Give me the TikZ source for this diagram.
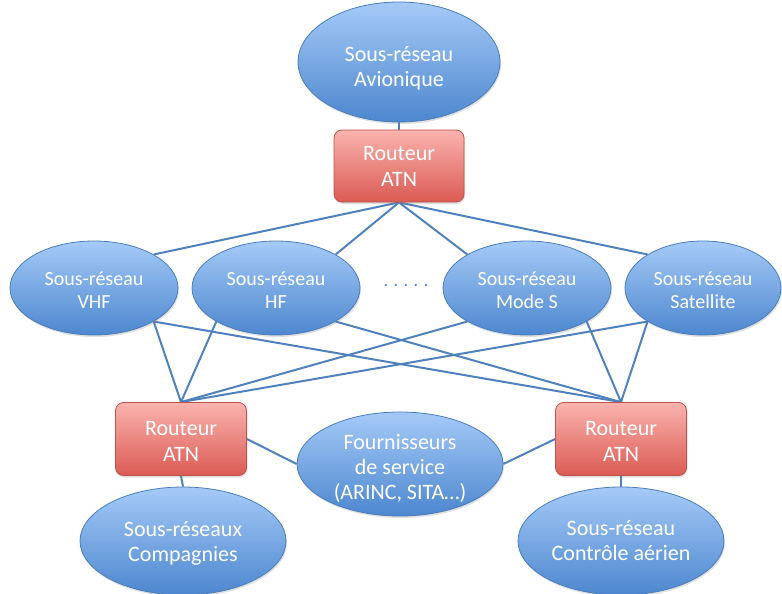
\documentclass[tikz,border=0pt]{standalone}
\usepackage{fontspec}
\setmainfont{Carlito}
\usetikzlibrary{shapes.geometric,shadows,backgrounds}
\definecolor{lineblue}{HTML}{4F81BD}
\definecolor{elltop}{HTML}{A5CAF7}
\definecolor{ellbot}{HTML}{4D87CF}
\definecolor{ellborder}{HTML}{4A7EBB}
\definecolor{rtop}{HTML}{FAB3AE}
\definecolor{rbot}{HTML}{DB5B54}
\definecolor{rborder}{HTML}{BE524C}
\newcommand{\lowtxt}[2]{\raisebox{-#1}[\height][\depth]{#2}}
\tikzset{
  net/.style={ellipse, draw=ellborder, line width=0.8pt, top color=elltop, bottom color=ellbot,
    text=white, align=center, inner sep=0pt,
    drop shadow={shadow xshift=1pt, shadow yshift=-2pt, opacity=0.25}},
  bignet/.style={net, font=\fontsize{22}{25}\selectfont},
  midnet/.style={net, font=\fontsize{20}{23.5}\selectfont, minimum height=94pt},
  router/.style={rectangle, rounded corners=8pt, draw=rborder, line width=0.8pt, top color=rtop, bottom color=rbot,
    text=white, align=center, inner sep=0pt, font=\fontsize{22}{26}\selectfont,
    drop shadow={shadow xshift=1pt, shadow yshift=-2pt, opacity=0.25}},
  link/.style={draw=lineblue, line width=2pt}
}
\begin{document}
\begin{tikzpicture}[x=1pt,y=-1pt]
\useasboundingbox (0,0) rectangle (782,594);
% top
\node[bignet, minimum width=202pt, minimum height=120pt] (avio) at (399,62) {\lowtxt{6pt}{Sous-réseau}\\\lowtxt{6pt}{Avionique}};
\node[router, minimum width=130pt, minimum height=72pt] (r0) at (399,166) {Routeur\\ATN};
% middle
\node[midnet, minimum width=168pt] (vhf) at (94,288) {\lowtxt{2pt}{Sous-réseau}\\\lowtxt{2pt}{VHF}};
\node[midnet, minimum width=168pt] (hf) at (276,288) {\lowtxt{2pt}{Sous-réseau}\\\lowtxt{2pt}{HF}};
\node[midnet, minimum width=168pt] (modes) at (527,288) {\lowtxt{2pt}{Sous-réseau}\\\lowtxt{2pt}{Mode S}};
\node[midnet, minimum width=156pt] (sat) at (703,288) {\lowtxt{2pt}{Sous-réseau}\\\lowtxt{2pt}{Satellite}};
\node[text=lineblue, font=\fontsize{18}{20}\selectfont] (dots) at (406,286) {.\hspace{5.5pt}.\hspace{5.5pt}.\hspace{5.5pt}.\hspace{5.5pt}.};
% bottom
\node[router, minimum width=131pt, minimum height=73pt] (rl) at (181,439) {\lowtxt{2pt}{Routeur}\\\lowtxt{2pt}{ATN}};
\node[router, minimum width=131pt, minimum height=73pt] (rr) at (621,439) {\lowtxt{2pt}{Routeur}\\\lowtxt{2pt}{ATN}};
\node[bignet, minimum width=206pt, minimum height=104pt] (four) at (400,464) {\lowtxt{4pt}{Fournisseurs}\\\lowtxt{4pt}{de service}\\\lowtxt{4pt}{(ARINC, SITA…)}};
\node[bignet, minimum width=206pt, minimum height=108pt] (comp) at (183,541) {\lowtxt{2pt}{Sous-réseaux}\\\lowtxt{2pt}{Compagnies}};
\node[bignet, minimum width=206pt, minimum height=108pt] (ctrl) at (621,541) {Sous-réseau\\Contrôle aérien};
\begin{scope}[on background layer]
\draw[link] (avio.south) -- (r0.north);
\draw[link] (r0.south) -- (vhf.north east);
\draw[link] (r0.south) -- (hf.north east);
\draw[link] (r0.south) -- (modes.north west);
\draw[link] (r0.south) -- (sat.north west);
\draw[link] (vhf.south east) -- (rl.north);
\draw[link] (hf.south west) -- (rl.north);
\draw[link] (modes.south west) -- (rl.north);
\draw[link] (sat.south west) -- (rl.north);
\draw[link] (vhf.south east) -- (rr.north);
\draw[link] (hf.south east) -- (rr.north);
\draw[link] (modes.south east) -- (rr.north);
\draw[link] (sat.south west) -- (rr.north);
\draw[link] (rl.east) -- (four.west);
\draw[link] (rr.west) -- (four.east);
\draw[link] (rl.south) -- (comp.north);
\draw[link] (rr.south) -- (ctrl.north);
\end{scope}
\end{tikzpicture}
\end{document}
